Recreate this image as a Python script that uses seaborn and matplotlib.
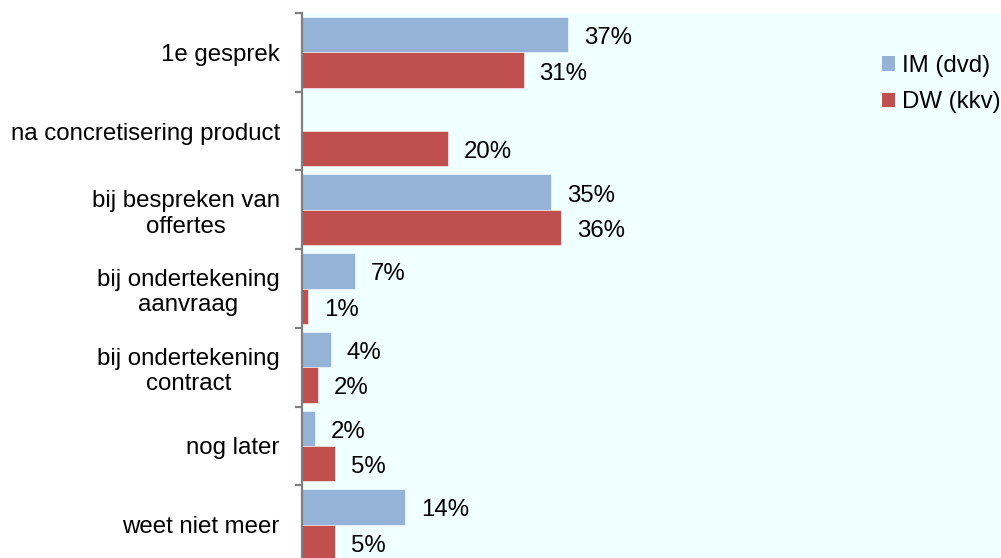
import numpy as np
import pandas as pd
import matplotlib
matplotlib.use("Agg")
import matplotlib.pyplot as plt
from matplotlib.patches import Patch
import seaborn as sns

categories = [
    "1e gesprek",
    "na concretisering product",
    "bij bespreken van\nofferte\u200bs".replace("\u200b", ""),
    "bij ondertekening\naanvraag",
    "bij ondertekening\ncontract",
    "nog later",
    "weet niet meer",
]
series = ["IM (dvd)", "DW (kkv)"]
im_values = [37.1, np.nan, 34.7, 7.4, 4.0, 1.8, 14.4]
dw_values = [30.9, 20.3, 36.1, 0.8, 2.2, 4.6, 4.6]
colors = ["#95B3D7", "#C0504D"]

df = pd.DataFrame({
    "categorie": categories * 2,
    "groep": [series[0]] * len(categories) + [series[1]] * len(categories),
    "waarde": im_values + dw_values,
})

sns.set_style("white")
plt.rcParams["font.family"] = ["Liberation Sans", "DejaVu Sans"]
plt.rcParams["text.color"] = "black"
plt.rcParams["ytick.color"] = "#808080"
plt.rcParams["ytick.labelcolor"] = "black"
fs = 17.3

W, H = 1001, 558
fig = plt.figure(figsize=(W / 100, H / 100), dpi=100)
fig.patch.set_facecolor("white")
top_px, bot_px = 13, 564
ax = fig.add_axes([302 / W, 1 - bot_px / H, 1 - 302 / W, (bot_px - top_px) / H])
ax.set_facecolor("#F0FFFF")

sns.barplot(data=df, y="categorie", x="waarde", hue="groep", order=categories,
            hue_order=series, palette=colors, saturation=1, orient="h", width=0.9,
            edgecolor="white", linewidth=0.4, ax=ax, legend=False)

# value labels
for container in ax.containers:
    for bar in container:
        w = bar.get_width()
        if np.isnan(w) or w == 0:
            continue
        ax.annotate(f"{w:.0f}%", (w, bar.get_y() + bar.get_height() / 2),
                    xytext=(11.5, -2.5), textcoords="offset points",
                    ha="left", va="center", fontsize=fs, color="black")

ax.set_xlim(0, (W - 302) / 7.17)
ax.set_ylim(len(categories) - 0.5, -0.5)
ax.set_xlabel("")
ax.set_ylabel("")
ax.xaxis.set_visible(False)
for s in ["top", "right", "bottom"]:
    ax.spines[s].set_visible(False)
ax.spines["left"].set_color("#808080")
ax.spines["left"].set_linewidth(1.6)

ax.set_yticks(range(len(categories)))
ax.set_yticklabels(categories, fontsize=fs, multialignment="center", color="black")
ax.tick_params(axis="y", which="major", left=True, length=0, pad=16)
ax.set_yticks(np.arange(-0.5, len(categories), 1.0), minor=True)
ax.tick_params(axis="y", which="minor", left=True, length=5, width=1.6,
               color="#808080", direction="out")

handles = [Patch(facecolor=c, edgecolor="none") for c in colors]
fig.legend(handles, series, loc="upper left", bbox_to_anchor=(882 / W, 1 - 55 / H),
           frameon=False, fontsize=fs, handlelength=0.55, handleheight=0.55,
           handletextpad=0.3, labelspacing=0.6, borderaxespad=0, borderpad=0)

fig.savefig("out.png", dpi=100)
